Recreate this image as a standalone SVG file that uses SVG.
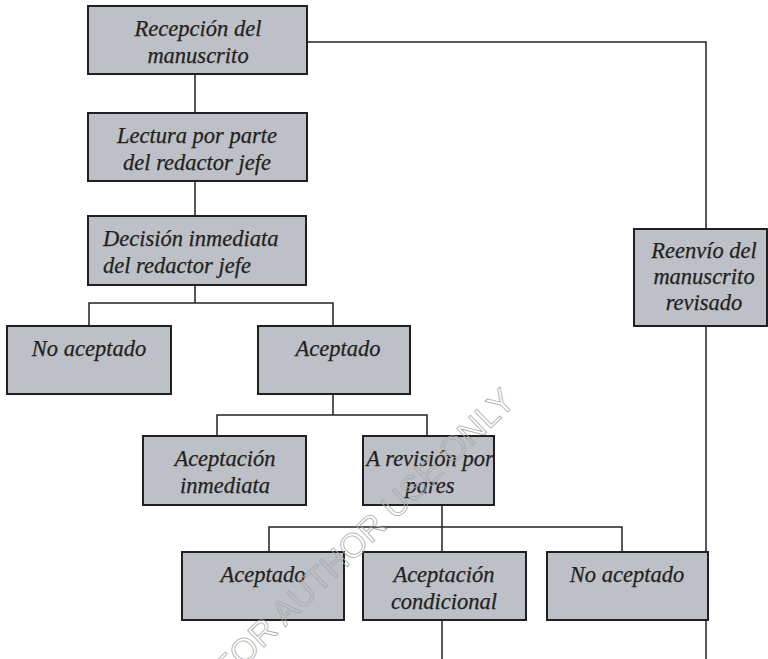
<svg xmlns="http://www.w3.org/2000/svg" width="768" height="659" viewBox="0 0 768 659">
  <style>
    .box { fill: #bdc0c6; stroke: #231f20; stroke-width: 2; }
    .lbl { font-family: 'Liberation Serif', 'Times New Roman', serif; font-style: italic; font-size: 22.5px; fill: #231f20; stroke: #231f20; stroke-width: 0.25; text-anchor: middle; }
    .left { text-anchor: start; }
    .wire { fill: none; stroke: #231f20; stroke-width: 1.5; }
    .mark { font-family: 'Liberation Sans', sans-serif; font-size: 34px; fill: none; stroke: #a8a8a8; stroke-width: 0.8; text-anchor: middle; }
  </style>

  <!-- connectors -->
  <g id="connectors" class="wire">
    <path d="M195,74 V113"/>
    <path d="M307,42 H706 V229"/>
    <path d="M195,181 V216"/>
    <path d="M195,285 V303 M89,326 V303 H333 V326"/>
    <path d="M333,394 V415 M217,436 V415 H427 V436"/>
    <path d="M442,505 V527 M269,552 V527 H622 V552 M442,527 V552"/>
    <path d="M442,620 V659"/>
    <path d="M706,326 V659"/>
  </g>

  <g id="recepcion">
    <rect class="box" x="88" y="6" width="219" height="68"/>
    <text class="lbl" x="198" y="36">Recepción del</text>
    <text class="lbl" x="198" y="63">manuscrito</text>
  </g>

  <g id="lectura">
    <rect class="box" x="88" y="113" width="219" height="68"/>
    <text class="lbl" x="197" y="143">Lectura por parte</text>
    <text class="lbl" x="197" y="170">del redactor jefe</text>
  </g>

  <g id="decision">
    <rect class="box" x="88" y="216" width="218" height="69"/>
    <text class="lbl left" x="103" y="246">Decisión inmediata</text>
    <text class="lbl left" x="103" y="273">del redactor jefe</text>
  </g>

  <g id="no-aceptado-1">
    <rect class="box" x="7" y="326" width="164" height="68"/>
    <text class="lbl" x="89" y="356">No aceptado</text>
  </g>

  <g id="aceptado-1">
    <rect class="box" x="258" y="326" width="152" height="68"/>
    <text class="lbl" x="338" y="356">Aceptado</text>
  </g>

  <g id="aceptacion-inmediata">
    <rect class="box" x="143" y="436" width="163" height="69"/>
    <text class="lbl" x="225" y="466">Aceptación</text>
    <text class="lbl" x="225" y="493">inmediata</text>
  </g>

  <g id="revision-pares">
    <rect class="box" x="363" y="436" width="131" height="69"/>
    <text class="lbl" x="430" y="466">A revisión por</text>
    <text class="lbl" x="430" y="493">pares</text>
  </g>

  <g id="aceptado-2">
    <rect class="box" x="182" y="552" width="162" height="68"/>
    <text class="lbl" x="263" y="582">Aceptado</text>
  </g>

  <g id="aceptacion-condicional">
    <rect class="box" x="363" y="552" width="163" height="68"/>
    <text class="lbl" x="444" y="582">Aceptación</text>
    <text class="lbl" x="444" y="609">condicional</text>
  </g>

  <g id="no-aceptado-2">
    <rect class="box" x="547" y="552" width="161" height="68"/>
    <text class="lbl" x="627" y="582">No aceptado</text>
  </g>

  <g id="reenvio">
    <rect class="box" x="634" y="229" width="133" height="97"/>
    <text class="lbl" x="704" y="258">Reenvío del</text>
    <text class="lbl" x="704" y="284">manuscrito</text>
    <text class="lbl" x="704" y="310">revisado</text>
  </g>

  <!-- diagonal outline stamp -->
  <text class="mark" transform="translate(364,534) rotate(-44)" x="0" y="12">FOR AUTHOR USE ONLY</text>
</svg>
